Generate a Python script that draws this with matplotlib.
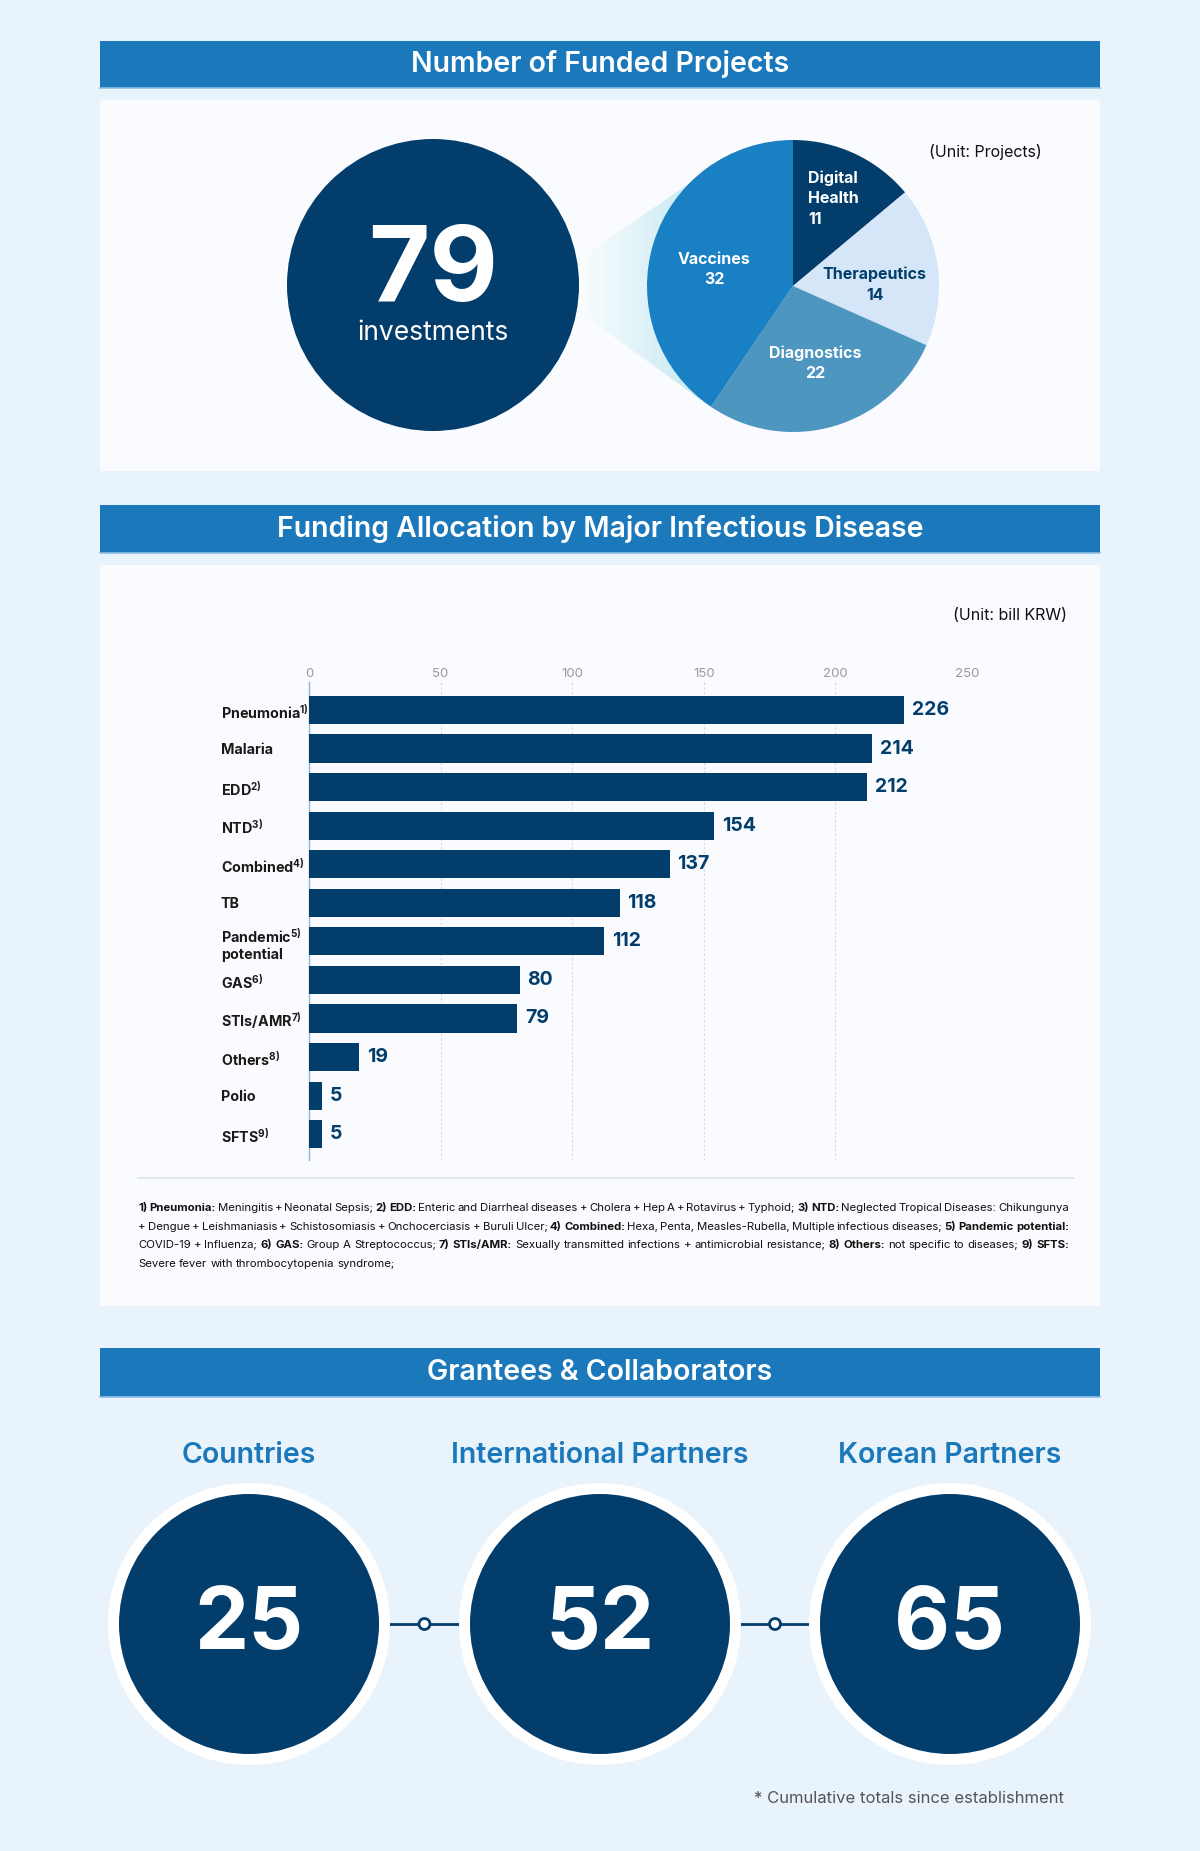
import matplotlib
matplotlib.use("Agg")
import matplotlib.pyplot as plt
import numpy as np
from matplotlib.patches import Rectangle, Circle, Polygon
from matplotlib.colors import LinearSegmentedColormap

plt.rcParams['font.family'] = ['Inter', 'DejaVu Sans']
plt.rcParams['mathtext.fontset'] = 'custom'
plt.rcParams['mathtext.rm'] = 'Inter'
plt.rcParams['mathtext.bf'] = 'Inter:bold'
plt.rcParams['mathtext.default'] = 'bf'

# ---- data ----
total_projects = 79
pie_labels = ["Digital\nHealth", "Therapeutics", "Diagnostics", "Vaccines"]
pie_values = [11, 14, 22, 32]

diseases = ["Pneumonia$^{1)}$", "Malaria", "EDD$^{2)}$", "NTD$^{3)}$", "Combined$^{4)}$", "TB",
            "Pandemic$^{5)}$\npotential", "GAS$^{6)}$", "STIs/AMR$^{7)}$", "Others$^{8)}$", "Polio", "SFTS$^{9)}$"]
funding = [226, 214, 212, 154, 137, 118, 112, 80, 79, 19, 5, 5]
x_ticks = [0, 50, 100, 150, 200, 250]

stat_labels = ["Countries", "International Partners", "Korean Partners"]
stat_values = [25, 52, 65]

footnote_lines = [
    [("1) Pneumonia:", True), ("Meningitis + Neonatal Sepsis;", False), ("2) EDD:", True),
     ("Enteric and Diarrheal diseases + Cholera + Hep A + Rotavirus + Typhoid;", False),
     ("3) NTD:", True), ("Neglected Tropical Diseases: Chikungunya", False)],
    [("+ Dengue + Leishmaniasis + Schistosomiasis + Onchocerciasis + Buruli Ulcer;", False),
     ("4) Combined:", True), ("Hexa, Penta, Measles-Rubella, Multiple infectious diseases;", False),
     ("5) Pandemic potential:", True)],
    [("COVID-19 + Influenza;", False), ("6) GAS:", True), ("Group A Streptococcus;", False),
     ("7) STIs/AMR:", True), ("Sexually transmitted infections + antimicrobial resistance;", False),
     ("8) Others:", True), ("not specific to diseases;", False), ("9) SFTS:", True)],
    [("Severe fever with thrombocytopenia syndrome;", False)],
]

# ---- colours ----
BG = "#e9f3fb"
PANEL = "#f9fbfe"
HEADER = "#1a78bb"
NAVY = "#033d6b"
pie_colors = ["#033d6b", "#d4e6f7", "#4c96c0", "#1a80c4"]
pie_text_colors = ["white", NAVY, "white", "white"]

W, H = 1200, 1851
fig = plt.figure(figsize=(W / 100, H / 100), dpi=100)
fig.patch.set_facecolor(BG)

ax0 = fig.add_axes([0, 0, 1, 1])
ax0.set_axis_off()


def header(y0, h, title):
    ax0.add_patch(Rectangle((100, y0), 1000, h, facecolor=HEADER, edgecolor="none", zorder=1))
    ax0.plot([100, 1100], [y0 + h, y0 + h], color="#8cc0e6", lw=1.2, zorder=1)
    ax0.text(600, y0 + h / 2, title, color="white", fontsize=20.5, fontweight="semibold",
             ha="center", va="center", zorder=2)


# panels
ax0.add_patch(Rectangle((100, 100), 1000, 371, facecolor=PANEL, edgecolor="none", zorder=0))
ax0.add_patch(Rectangle((100, 565), 1000, 741, facecolor=PANEL, edgecolor="none", zorder=0))
header(41, 47, "Number of Funded Projects")
header(505, 48, "Funding Allocation by Major Infectious Disease")
header(1348, 49, "Grantees & Collaborators")

# ---- section 1: big circle + pie ----
cone = Polygon([(570, 265), (690, 183), (793, 286), (705, 403), (570, 305)],
               closed=True, facecolor="none", edgecolor="none")
ax0.add_patch(cone)
cmap = LinearSegmentedColormap.from_list("cone", ["#ffffff", "#c3e7f2"])
im = ax0.imshow(np.linspace(0, 1, 256).reshape(1, -1), extent=[570, 705, 410, 160],
                cmap=cmap, aspect="auto", zorder=1)
im.set_clip_path(cone)
# solid end of the gradient, hidden under the pie
ax0.add_patch(Polygon([(704, 180), (793, 286), (704, 400)], closed=True,
                      facecolor="#c3e7f2", edgecolor="none", zorder=1))

ax0.add_patch(Circle((433, 285), 146, facecolor=NAVY, edgecolor="none", zorder=2))
ax0.text(433, 273, str(total_projects), color="white", fontsize=76, fontweight="bold",
         ha="center", va="center", zorder=3)
ax0.text(433, 333, "investments", color="white", fontsize=19, ha="center", va="center", zorder=3)
ax0.text(1042, 152, "(Unit: Projects)", color="#111111", fontsize=11.5, ha="right", va="center")

ax_pie = fig.add_axes([(793 - 146) / W, 1 - (286 + 146) / H, 292 / W, 292 / H])
ax_pie.patch.set_alpha(0)
wedges, _ = ax_pie.pie(pie_values, colors=pie_colors, startangle=90, counterclock=False,
                       radius=1, wedgeprops=dict(linewidth=0))
ax_pie.set_xlim(-1, 1)
ax_pie.set_ylim(-1, 1)
ax_pie.set_aspect("equal")
ax_pie.set_axis_off()
label_r = [0.66, 0.56, 0.55, 0.55]
label_ang = [None, 1.0, None, 168.0]
for w, lab, val, r, a, tc in zip(wedges, pie_labels, pie_values, label_r, label_ang, pie_text_colors):
    ang = np.deg2rad(a if a is not None else (w.theta1 + w.theta2) / 2)
    ma = "left" if lab.startswith("Digital") else "center"
    ax_pie.text(r * np.cos(ang), r * np.sin(ang), f"{lab}\n{val}", color=tc, fontsize=11.5,
                fontweight="bold", ha="center", va="center", multialignment=ma, linespacing=1.45)

# ---- section 2: bar chart ----
ax0.text(1067, 615, "(Unit: bill KRW)", color="#111111", fontsize=11.5, ha="right", va="center")

ax_bar = fig.add_axes([309 / W, 1 - 1160 / H, (967 - 309) / W, (1160 - 682) / H])
ax_bar.patch.set_alpha(0)
ypos = np.arange(len(diseases))
ax_bar.barh(ypos, funding, height=0.73, color=NAVY, zorder=3)
ax_bar.set_xlim(0, 250)
ax_bar.set_ylim(11.67, -0.726)
ax_bar.set_xticks(x_ticks)
ax_bar.xaxis.tick_top()
ax_bar.tick_params(axis="x", length=0, pad=1.5, labelsize=9.5, labelcolor="#9a9a9a")
ax_bar.set_yticks(ypos)
ax_bar.set_yticklabels(diseases, ha="left", fontsize=10.3, fontweight="bold", color="#1a1a1a")
ax_bar.tick_params(axis="y", length=0, pad=63.4)
ax_bar.grid(axis="x", color="#d5d8dc", lw=0.8, linestyle=(0, (2, 2)), zorder=0)
for s in ["top", "right", "bottom"]:
    ax_bar.spines[s].set_visible(False)
ax_bar.spines["left"].set_color("#8ab4d8")
ax_bar.spines["left"].set_linewidth(1)
for y, v in zip(ypos, funding):
    ax_bar.text(v + 3, y, str(v), color=NAVY, fontsize=14, fontweight="bold",
                ha="left", va="center")

ax0.plot([138, 1073], [1178, 1178], color="#dde3ea", lw=1.2)

# footnote, justified
renderer = fig.canvas.get_renderer()
x_left, x_right = 138, 1069
fs = 8.2
probe_a = ax0.text(0, 0, "a a", fontsize=fs)
probe_b = ax0.text(0, 0, "aa", fontsize=fs)
space_w = probe_a.get_window_extent(renderer).width - probe_b.get_window_extent(renderer).width
probe_a.remove()
probe_b.remove()
for li, line in enumerate(footnote_lines):
    yline = 1208 + li * 18.5
    words = []
    for seg, bold in line:
        for wd in seg.split():
            words.append((wd, bold))
    texts = []
    widths = []
    for wd, bold in words:
        t = ax0.text(0, yline, wd, fontsize=fs, fontweight="bold" if bold else "normal",
                     color="#111111", ha="left", va="center")
        texts.append(t)
        widths.append(t.get_window_extent(renderer).width)
    if li < len(footnote_lines) - 1 and len(words) > 1:
        gap = (x_right - x_left - sum(widths)) / (len(words) - 1)
    else:
        gap = space_w
    x = x_left
    for t, wdt in zip(texts, widths):
        t.set_x(x)
        x += wdt + gap

# ---- section 3: stats ----
centers = [249, 600, 950]
cy = 1624
for i in range(len(centers) - 1):
    xa, xb = centers[i] + 130, centers[i + 1] - 130
    ax0.plot([xa, xb], [cy, cy], color=NAVY, lw=2, zorder=1)
    ax0.add_patch(Circle(((xa + xb) / 2, cy), 5.5, facecolor="white", edgecolor=NAVY, lw=2, zorder=4))
for cx, lab, val in zip(centers, stat_labels, stat_values):
    ax0.text(cx, 1455, lab, color=HEADER, fontsize=20.5, fontweight="semibold", ha="center", va="center")
    ax0.add_patch(Circle((cx, cy), 141, facecolor="white", edgecolor="none", zorder=2))
    ax0.add_patch(Circle((cx, cy), 130, facecolor=NAVY, edgecolor="none", zorder=3))
    ax0.text(cx, cy + 2, str(val), color="white", fontsize=62, fontweight="bold",
             ha="center", va="center", zorder=5)

ax0.text(1064, 1798, "* Cumulative totals since establishment", color="#555555", fontsize=12,
         ha="right", va="center")

ax0.set_xlim(0, W)
ax0.set_ylim(H, 0)

fig.savefig("out.png", dpi=100, facecolor=BG)
